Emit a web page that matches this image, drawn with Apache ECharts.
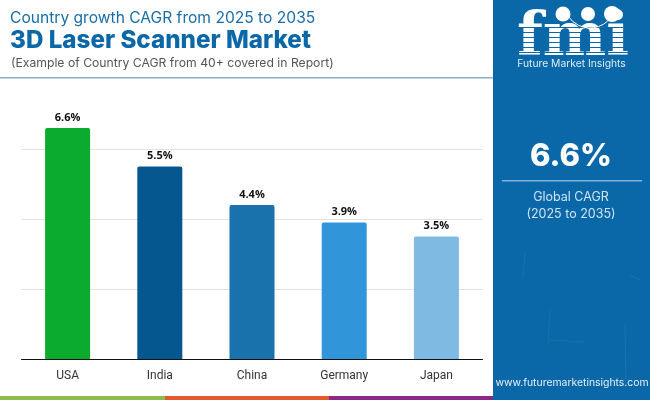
<!DOCTYPE html>
<html><head><meta charset="utf-8">
<style>html,body{margin:0;padding:0;background:#fff}#c{width:650px;height:400px}</style>
<script src="https://cdn.jsdelivr.net/npm/echarts@6/dist/echarts.min.js"></script>
</head><body><div id="c"></div>
<script>
const categories = ['USA','India','China','Germany','Japan'];
const cagrValues = [6.6,5.5,4.4,3.9,3.5];
const barColors = ['#0bab2f','#04588f','#1a72ad','#3095d9','#7fbae2'];
const titleLines = ['Country growth CAGR from 2025 to 2035','3D Laser Scanner Market','(Example of Country CAGR from 40+ covered in Report)'];
const globalValue = '6.6%';
const globalLines = ['Global CAGR','(2025 to 2035)'];
const website = 'www.futuremarketinsights.com';
const logoName = 'Future Market Insights';

const chart = echarts.init(document.getElementById('c'),null,{renderer:'canvas'});
const sans = 'Inter, "Open Sans", sans-serif';
const side = '#0a68a8';
const graphic = [
 {type:'rect',z:1,shape:{x:493,y:0,width:157,height:400},style:{fill:side}},
 {type:'rect',z:1,shape:{x:0,y:77,width:493,height:1.5},style:{fill:'#8aaec9'}},
 {type:'rect',z:1,shape:{x:0,y:396,width:165,height:4},style:{fill:'#8bbd4a'}},
 {type:'rect',z:1,shape:{x:165,y:396,width:164,height:4},style:{fill:'#e2592c'}},
 {type:'rect',z:1,shape:{x:329,y:396,width:164,height:4},style:{fill:'#8a2a86'}},
 {type:'text',z:5,style:{x:10,y:18,text:titleLines[0],verticalAlign:'middle',font:'400 15.6px '+sans,fill:'#1a6ea8'}},
 {type:'text',z:5,style:{x:10,y:41,text:titleLines[1],verticalAlign:'middle',font:'800 24.2px '+sans,fill:'#0a68a8'}},
 {type:'text',z:5,style:{x:11,y:63,text:titleLines[2],verticalAlign:'middle',font:'400 12.2px '+sans,fill:'#555'}},
 {type:'text',z:5,style:{x:571,y:157,text:globalValue,verticalAlign:'middle',align:'center',font:'800 31px '+sans,fill:'#fff'}},
 {type:'rect',z:5,shape:{x:502,y:180,width:140,height:1.5},style:{fill:'#7fb2da'}},
 {type:'text',z:5,style:{x:571,y:197,text:globalLines[0],verticalAlign:'middle',align:'center',font:'400 12.5px '+sans,fill:'#cfe3f3'}},
 {type:'text',z:5,style:{x:571,y:214,text:globalLines[1],verticalAlign:'middle',align:'center',font:'400 12.5px '+sans,fill:'#cfe3f3'}},
 {type:'text',z:5,style:{x:572,y:383,text:website,verticalAlign:'middle',align:'center',font:'400 10.4px '+sans,fill:'#e6f0f8'}},
 // logo
 {type:'text',z:5,style:{x:517,y:9,text:'fmi',font:'700 60px "DejaVu Serif", serif',fill:'#fff'}},
 {type:'text',z:5,style:{x:571.5,y:64,text:logoName,verticalAlign:'middle',align:'center',font:'400 10.3px '+sans,fill:'#dcebf6'}},
 {type:'circle',z:6,shape:{cx:563,cy:14,r:7.5},style:{fill:'#fff'}},
 {type:'circle',z:6,shape:{cx:588,cy:14,r:7},style:{fill:'#fff'}},
 {type:'circle',z:6,shape:{cx:612,cy:14,r:8},style:{fill:'#fff'}},
 {type:'arc',z:6,shape:{cx:590,cy:2,r:26,startAngle:0.45,endAngle:2.6},style:{stroke:'#fff',lineWidth:1,fill:null}}
];
// logo stripes
[27,32,37,42,47,52].forEach(y=>graphic.push({type:'rect',z:5.5,shape:{x:515,y:y,width:114,height:1},style:{fill:side}}));
// faint scratches of the side panel
[[525,253,523,278],[625,325,626,385],[550,310,548,345],[630,275,640,280],[550,340,585,342]].forEach(p=>graphic.push(
 {type:'line',z:2,shape:{x1:p[0],y1:p[1],x2:p[2],y2:p[3]},style:{stroke:'#2d80b8',lineWidth:1,opacity:.4}}));

chart.setOption({
 animation:false,
 textStyle:{fontFamily:'Roboto'},
 grid:{left:21.5,right:167.5,top:79,bottom:41,containLabel:false},
 xAxis:{type:'category',data:categories,
  axisLine:{lineStyle:{color:'#111',width:1}},axisTick:{show:false},
  axisLabel:{color:'#333',fontSize:12,fontFamily:'Roboto',margin:11}},
 yAxis:{type:'value',min:0,max:8,interval:2,axisLine:{show:false},axisTick:{show:false},axisLabel:{show:false},
  splitLine:{showMaxLine:false,lineStyle:{color:'#e2e2e2',width:1}}},
 series:[{type:'bar',barWidth:45,
  data:cagrValues.map((v,i)=>({value:v,itemStyle:{color:barColors[i],borderRadius:[2,2,0,0]}})),
  label:{show:true,position:'top',distance:5,formatter:p=>p.value.toFixed(1)+'%',color:'#111',fontSize:11,fontWeight:'bold',fontFamily:'"Open Sans"'}}],
 graphic:graphic
});
</script></body></html>
